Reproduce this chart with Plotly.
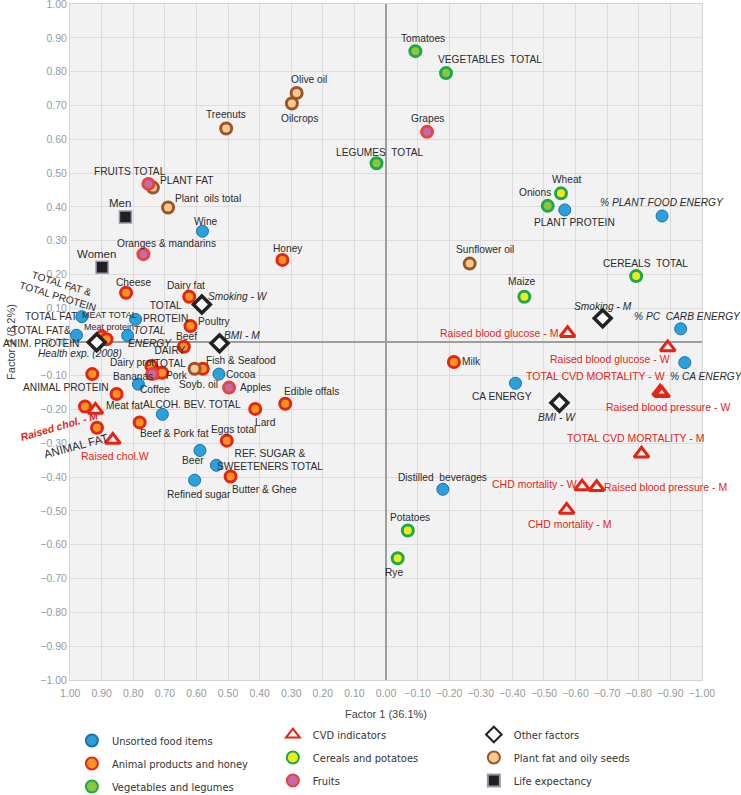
import plotly.graph_objects as go

# ---------------- data (Factor 1, Factor 2 loadings) ----------------
unsorted_names = ["Wine", "TOTAL FAT", "TOTAL PROTEIN", "TOTAL FAT & ANIM. PROTEIN", "TOTAL ENERGY",
                  "Cocoa", "Coffee", "ALCOH. BEV. TOTAL", "Beer", "REF. SUGAR & SWEETENERS TOTAL",
                  "Refined sugar", "PLANT PROTEIN", "% PLANT FOOD ENERGY", "% PC CARB ENERGY",
                  "% CA ENERGY", "CA ENERGY", "Distilled beverages"]
unsorted_x = [0.581, 0.963, 0.793, 0.980, 0.818, 0.529, 0.784, 0.708, 0.589, 0.537,
              0.606, -0.566, -0.874, -0.933, -0.946, -0.410, -0.180]
unsorted_y = [0.328, 0.075, 0.067, 0.020, 0.019, -0.095, -0.125, -0.214, -0.321, -0.365,
              -0.409, 0.391, 0.373, 0.039, -0.061, -0.122, -0.436]

animal_names = ["Cheese", "Dairy fat", "Poultry", "Meat protein", "MEAT TOTAL", "Beef", "Dairy prot.",
                "DAIRY TOTAL", "Pork", "Fish & Seafood", "ANIMAL PROTEIN", "Meat fat", "Animal item",
                "ANIMAL FAT", "Beef & Pork fat", "Eggs total", "Butter & Ghee", "Lard", "Edible offals",
                "Honey", "Milk"]
animal_x = [0.823, 0.623, 0.619, 0.900, 0.885, 0.640, 0.743, 0.727, 0.709, 0.580, 0.930, 0.853, 0.953,
            0.915, 0.780, 0.504, 0.492, 0.414, 0.319, 0.328, -0.215]
animal_y = [0.146, 0.134, 0.047, 0.016, 0.008, -0.014, -0.071, -0.091, -0.091, -0.079, -0.095, -0.154,
            -0.191, -0.254, -0.238, -0.292, -0.398, -0.198, -0.183, 0.243, -0.059]

veg_names = ["Tomatoes", "VEGETABLES TOTAL", "LEGUMES TOTAL", "Onions"]
veg_x = [-0.093, -0.190, 0.030, -0.512]
veg_y = [0.861, 0.796, 0.529, 0.403]

cvd_names = ["Raised chol. - M", "Raised chol. W", "Raised blood glucose - M", "Raised blood glucose - W",
             "TOTAL CVD MORTALITY - W", "Raised blood pressure - W", "TOTAL CVD MORTALITY - M",
             "CHD mortality - W", "Raised blood pressure - M", "CHD mortality - M"]
cvd_x = [0.920, 0.865, -0.575, -0.892, -0.868, -0.874, -0.809, -0.621, -0.667, -0.572]
cvd_y = [-0.201, -0.290, 0.026, -0.016, -0.147, -0.152, -0.331, -0.428, -0.430, -0.497]

cereal_names = ["Wheat", "CEREALS TOTAL", "Maize", "Potatoes", "Rye"]
cereal_x = [-0.554, -0.792, -0.438, -0.069, -0.037]
cereal_y = [0.440, 0.195, 0.134, -0.558, -0.640]

fruit_names = ["FRUITS TOTAL", "Oranges & mandarins", "Grapes", "Bananas", "Apples"]
fruit_x = [0.752, 0.768, -0.130, 0.740, 0.497]
fruit_y = [0.468, 0.260, 0.622, -0.095, -0.135]

other_names = ["Smoking - W", "Smoking - M", "BMI - M", "BMI - W", "Health exp. (2008)"]
other_x = [0.583, -0.686, 0.527, -0.549, 0.916]
other_y = [0.111, 0.070, -0.004, -0.180, -0.001]

plant_names = ["Treenuts", "PLANT FAT", "Plant oils total", "Olive oil", "Oilcrops", "Sunflower oil", "Soyb. oil"]
plant_x = [0.506, 0.738, 0.690, 0.283, 0.298, -0.265, 0.606]
plant_y = [0.632, 0.457, 0.398, 0.737, 0.706, 0.232, -0.079]

life_names = ["Men", "Women"]
life_x = [0.825, 0.899]
life_y = [0.370, 0.221]

axis_ticks = [round(-1 + 0.1 * i, 2) for i in range(21)]

# ---------------- label placement (pixel offsets; dy positive = up) ----------------
labels = {
    "Wine": ("Wine", 3, 10), "TOTAL FAT": ("TOTAL FAT", -31, 0),
    "TOTAL PROTEIN": ("TOTAL<br>PROTEIN", 30, 7),
    "TOTAL FAT & ANIM. PROTEIN": ("TOTAL FAT&<br>ANIM. PROTEIN", -35, -2),
    "TOTAL ENERGY": ("TOTAL<br>ENERGY", 22, -1), "Cocoa": ("Cocoa", 22, 0), "Coffee": ("Coffee", 17, -5),
    "ALCOH. BEV. TOTAL": ("ALCOH. BEV. TOTAL", 30, 10), "Beer": ("Beer", -7, -10),
    "REF. SUGAR & SWEETENERS TOTAL": ("REF. SUGAR &<br>SWEETENERS TOTAL", 54, 5),
    "Refined sugar": ("Refined sugar", 4, -14), "PLANT PROTEIN": ("PLANT PROTEIN", 10, -13),
    "% PLANT FOOD ENERGY": ("% PLANT FOOD ENERGY", 0, 13), "% PC CARB ENERGY": ("% PC  CARB ENERGY", 7, 12),
    "% CA ENERGY": ("% CA ENERGY", 22, -14), "CA ENERGY": ("CA ENERGY", -14, -13),
    "Distilled beverages": ("Distilled  beverages", 0, 12),
    "Cheese": ("Cheese", 7, 10), "Dairy fat": ("Dairy fat", -3, 11), "Poultry": ("Poultry", 24, 5),
    "Meat protein": ("Meat protein", 7, 10), "MEAT TOTAL": ("MEAT TOTAL", 3, 24), "Beef": ("Beef", 3, 10),
    "Dairy prot.": ("Dairy prot.", -18, 3), "DAIRY TOTAL": ("DAIRY<br>TOTAL", 14, 16), "Pork": ("Pork", 15, -3),
    "Fish & Seafood": ("Fish & Seafood", 38, 8), "ANIMAL PROTEIN": ("ANIMAL PROTEIN", -26, -13),
    "Meat fat": ("Meat fat", 8, -11), "ANIMAL FAT": ("ANIMAL FAT", -21, -18),
    "Beef & Pork fat": ("Beef & Pork fat", 35, -11), "Eggs total": ("Eggs total", 7, 11),
    "Butter & Ghee": ("Butter & Ghee", 34, -13), "Lard": ("Lard", 10, -14),
    "Edible offals": ("Edible offals", 26, 12), "Honey": ("Honey", 6, 11), "Milk": ("Milk", 18, 0),
    "Tomatoes": ("Tomatoes", 8, 13), "VEGETABLES TOTAL": ("VEGETABLES  TOTAL", 44, 14),
    "LEGUMES TOTAL": ("LEGUMES  TOTAL", 3, 11), "Onions": ("Onions", -13, 13),
    "Raised chol. - M": ("<b><i>Raised chol. - M</i></b>", -36, -16), "Raised chol. W": ("Raised chol.W", 2, -16),
    "Raised blood glucose - M": ("Raised blood glucose - M", -69, 0),
    "Raised blood glucose - W": ("Raised blood glucose - W", -58, -12),
    "TOTAL CVD MORTALITY - W": ("TOTAL CVD MORTALITY - W", -65, 16),
    "Raised blood pressure - W": ("Raised blood pressure - W", 6, -14),
    "TOTAL CVD MORTALITY - M": ("TOTAL CVD MORTALITY - M", -6, 16),
    "CHD mortality - W": ("CHD mortality - W", -48, 3),
    "Raised blood pressure - M": ("Raised blood pressure - M", 69, 0),
    "CHD mortality - M": ("CHD mortality - M", 3, -14),
    "Wheat": ("Wheat", 6, 14), "CEREALS TOTAL": ("CEREALS  TOTAL", 9, 13), "Maize": ("Maize", -2, 15),
    "Potatoes": ("Potatoes", 2, 13), "Rye": ("Rye", -4, -14),
    "FRUITS TOTAL": ("FRUITS TOTAL", -18, 12), "Oranges & mandarins": ("Oranges & mandarins", 23, 11),
    "Grapes": ("Grapes", 0, 13), "Bananas": ("Bananas", -19, -2), "Apples": ("Apples", 26, 0),
    "Smoking - W": ("Smoking - W", 36, 8), "Smoking - M": ("Smoking - M", 0, 12), "BMI - M": ("BMI - M", 22, 8),
    "BMI - W": ("BMI - W", -2, -15), "Health exp. (2008)": ("Health exp. (2008)", -17, -11),
    "Treenuts": ("Treenuts", 0, 14), "PLANT FAT": ("PLANT FAT", 34, 7),
    "Plant oils total": ("Plant  oils total", 40, 9), "Olive oil": ("Olive oil", 12, 14),
    "Oilcrops": ("Oilcrops", 8, -15), "Sunflower oil": ("Sunflower oil", 15, 14), "Soyb. oil": ("Soyb. oil", 4, -16),
    "Men": ("Men", -5, 14), "Women": ("Women", -6, 13),
}
italic = {"TOTAL ENERGY", "% PLANT FOOD ENERGY", "% PC CARB ENERGY", "% CA ENERGY", "Smoking - W",
          "Smoking - M", "BMI - M", "BMI - W", "Health exp. (2008)"}
small = {"Meat protein", "MEAT TOTAL"}
big = {"Men", "Women"}
rotated = {"ANIMAL FAT": -15, "Raised chol. - M": -16}
# extra free label attached to the TOTAL FAT point
extra_labels = [("TOTAL FAT", "TOTAL FAT &<br>TOTAL PROTEIN", -22, 27, 17)]

# ---------------- styles ----------------
FONT = "Liberation Sans, Arial, Helvetica, sans-serif"
BLUE_F, BLUE_L = "#2aa1dc", "#1d6fa5"
RED = "#e42516"
groups = [
    # name, names, x, y, symbol, size, fill, line color, line width, legend, rank
    ("Unsorted food items", unsorted_names, unsorted_x, unsorted_y, "circle", 12, BLUE_F, BLUE_L, 1, "legend", 1),
    ("Animal products and honey", animal_names, animal_x, animal_y, "circle", 11, "#f7941d", RED, 3, "legend", 2),
    ("Plant fat and oily seeds", plant_names, plant_x, plant_y, "circle", 11, "#fcc890", "#9a5526", 3, "legend3", 8),
    ("Vegetables and legumes", veg_names, veg_x, veg_y, "circle", 11, "#8cc63e", "#1fa84a", 3, "legend", 3),
    ("Cereals and potatoes", cereal_names, cereal_x, cereal_y, "circle", 11, "#f2ea1a", "#1fa84a", 3, "legend2", 5),
    ("Fruits", fruit_names, fruit_x, fruit_y, "circle", 11, "#c46aa6", "#e8423a", 3, "legend2", 6),
    ("CVD indicators", cvd_names, cvd_x, cvd_y, "triangle-up-open", 13, RED, RED, 3, "legend2", 4),
    ("Other factors", other_names, other_x, other_y, "diamond", 13, "white", "#222222", 3.5, "legend3", 7),
    ("Life expectancy", life_names, life_x, life_y, "square", 12, "#231f20", "#9a96b0", 1.5, "legend3", 9),
]

fig = go.Figure()
annotations = []
for (gname, names, xs, ys, sym, size, fill, lc, lw, leg, rank) in groups:
    fig.add_trace(go.Scatter(
        x=xs, y=ys, mode="markers", name=gname, text=names, hoverinfo="text",
        marker=dict(symbol=sym, size=size, color=fill, line=dict(color=lc, width=lw)),
        legend=leg, legendgroup=gname, legendrank=rank))
    red = gname == "CVD indicators"
    for n, xv, yv in zip(names, xs, ys):
        if n not in labels:
            continue
        txt, dx, dy = labels[n]
        fsize = 9 if n in small else (11.5 if n in big else (10.5 if red else 10.2))
        if n == "ANIMAL FAT":
            fsize = 11.5
        if n in italic:
            txt = "<i>" + txt + "</i>"
        annotations.append(dict(
            x=xv, y=yv, xref="x", yref="y", text=txt, showarrow=False, xshift=dx, yshift=dy,
            textangle=rotated.get(n, 0), align="center",
            font=dict(size=fsize, color=RED if red else "#2b2b2b", family=FONT)))

all_names = sum([g[1] for g in groups], [])
all_x = sum([g[2] for g in groups], [])
all_y = sum([g[3] for g in groups], [])
for (anchor, txt, dx, dy, ang) in extra_labels:
    i = all_names.index(anchor)
    annotations.append(dict(x=all_x[i], y=all_y[i], xref="x", yref="y", text=txt, showarrow=False,
                            xshift=dx, yshift=dy, textangle=ang, align="center",
                            font=dict(size=10.2, color="#2b2b2b", family=FONT)))

axis_common = dict(
    tickvals=axis_ticks,
    ticktext=[("%.2f" % v).replace("-", "\u2212") if abs(v) > 1e-9 else "0.00" for v in axis_ticks],
    showgrid=True, gridcolor="#dcdcdc", gridwidth=1,
    zeroline=True, zerolinecolor="#9e9e9e", zerolinewidth=2,
    showline=True, linecolor="#d6d6d6", linewidth=1, mirror=True,
    tickfont=dict(size=10.5, color="#9a9a9a", family=FONT),
    ticks="", fixedrange=True, automargin=False, ticklabeloverflow="allow",
)

legend_common = dict(orientation="v", xanchor="left", yanchor="top", tracegroupgap=4,
                     itemsizing="constant", bgcolor="rgba(0,0,0,0)",
                     font=dict(size=11, color="#333333",
                               family="Liberation Sans Narrow, Arial Narrow, DejaVu Sans Condensed, Liberation Sans, sans-serif"))

fig.update_layout(
    width=741, height=795,
    margin=dict(l=70, r=39, t=4, b=115, autoexpand=False),
    paper_bgcolor="white", plot_bgcolor="#f2f2f2",
    showlegend=True,
    xaxis=dict(range=[1.0005, -1.0005], ticklabelstandoff=3,
               title=dict(text="Factor 1 (36.1%)", standoff=12, font=dict(size=11, color="#444444", family=FONT)),
               **axis_common),
    yaxis=dict(range=[-1.0005, 1.0005],
               title=dict(text="Factor 2 (8.2%)", standoff=22, font=dict(size=11, color="#444444", family=FONT)),
               **axis_common),
    legend=dict(x=0.003, y=-0.068, **legend_common),
    legend2=dict(x=0.321, y=-0.0592, **legend_common),
    legend3=dict(x=0.639, y=-0.0592, **legend_common),
    annotations=annotations,
)

fig.write_html("out.html", config={"displayModeBar": False},
               post_script="document.body.style.margin='0px';")
